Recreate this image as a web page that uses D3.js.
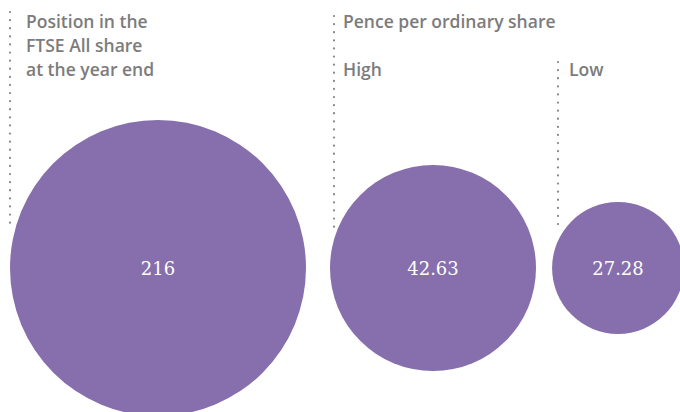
<!DOCTYPE html>
<html>
<head>
<meta charset="utf-8">
<script src="https://cdn.jsdelivr.net/npm/d3@7"></script>
<style>
  body { margin: 0; background: #fff; }
  svg { display: block; }
  .label { font-family: "Open Sans", sans-serif; font-weight: 600; font-size: 17.5px; fill: #7c7c7c; }
  .value { font-family: "DejaVu Serif", serif; font-size: 18px; fill: #fff; }
</style>
</head>
<body>
<svg></svg>
<script>
// data
let positionValue = [216];
let penceCategories = ["High", "Low"];
let penceValues = [42.63, 27.28];
let headLines = ["Position in the", "FTSE All share", "at the year end"];
let penceTitle = "Pence per ordinary share";

let width = 680;
let height = 412;
let centerY = 268;
let purple = "#866fac";

let svg = d3.select("svg").attr("width", width).attr("height", height);

// radius scales (the two groups use different units)
let posScale = d3.scaleLinear().domain([0, 216]).range([0, 148]);
let penceScale = d3.scaleLinear().domain([0, 42.63]).range([0, 103]);

// x positions of the circle centres
let xScale = d3.scaleOrdinal()
  .domain(["Position", "High", "Low"])
  .range([158, 433, 618]);

let circles = [
  { key: "Position", value: positionValue[0], r: posScale(positionValue[0]) },
  { key: penceCategories[0], value: penceValues[0], r: penceScale(penceValues[0]) },
  { key: penceCategories[1], value: penceValues[1], r: penceScale(penceValues[1]) }
];

//dotted guide lines
let guides = [
  { x: 10, y1: 12, y2: 228 },
  { x: 334, y1: 16, y2: 228 },
  { x: 558, y1: 62, y2: 232 }
];
svg.selectAll("line.guide")
  .data(guides)
  .enter()
  .append("line")
  .attr("class", "guide")
  .attr("x1", d => d.x)
  .attr("x2", d => d.x)
  .attr("y1", d => d.y1)
  .attr("y2", d => d.y2)
  .attr("stroke", "#888")
  .attr("stroke-width", 2.2)
  .attr("stroke-linecap", "round")
  .attr("stroke-dasharray", "0.1,8");

svg.selectAll("circle")
  .data(circles)
  .enter()
  .append("circle")
  .attr("cx", d => xScale(d.key))
  .attr("cy", centerY)
  .attr("r", d => d.r)
  .attr("fill", purple);

svg.selectAll("text.value")
  .data(circles)
  .enter()
  .append("text")
  .attr("class", "value")
  .attr("x", d => xScale(d.key))
  .attr("y", centerY + 7)
  .attr("text-anchor", "middle")
  .text(d => d.value);

//labels
svg.selectAll("text.head")
  .data(headLines)
  .enter()
  .append("text")
  .attr("class", "label")
  .attr("x", 26)
  .attr("y", (d, i) => 28 + i * 24)
  .text(d => d);

svg.append("text").attr("class", "label").attr("x", 343).attr("y", 28).text(penceTitle);
svg.selectAll("text.cat")
  .data(penceCategories)
  .enter()
  .append("text")
  .attr("class", "label")
  .attr("x", d => (d === "High" ? 343 : 569))
  .attr("y", 76)
  .text(d => d);
</script>
</body>
</html>
